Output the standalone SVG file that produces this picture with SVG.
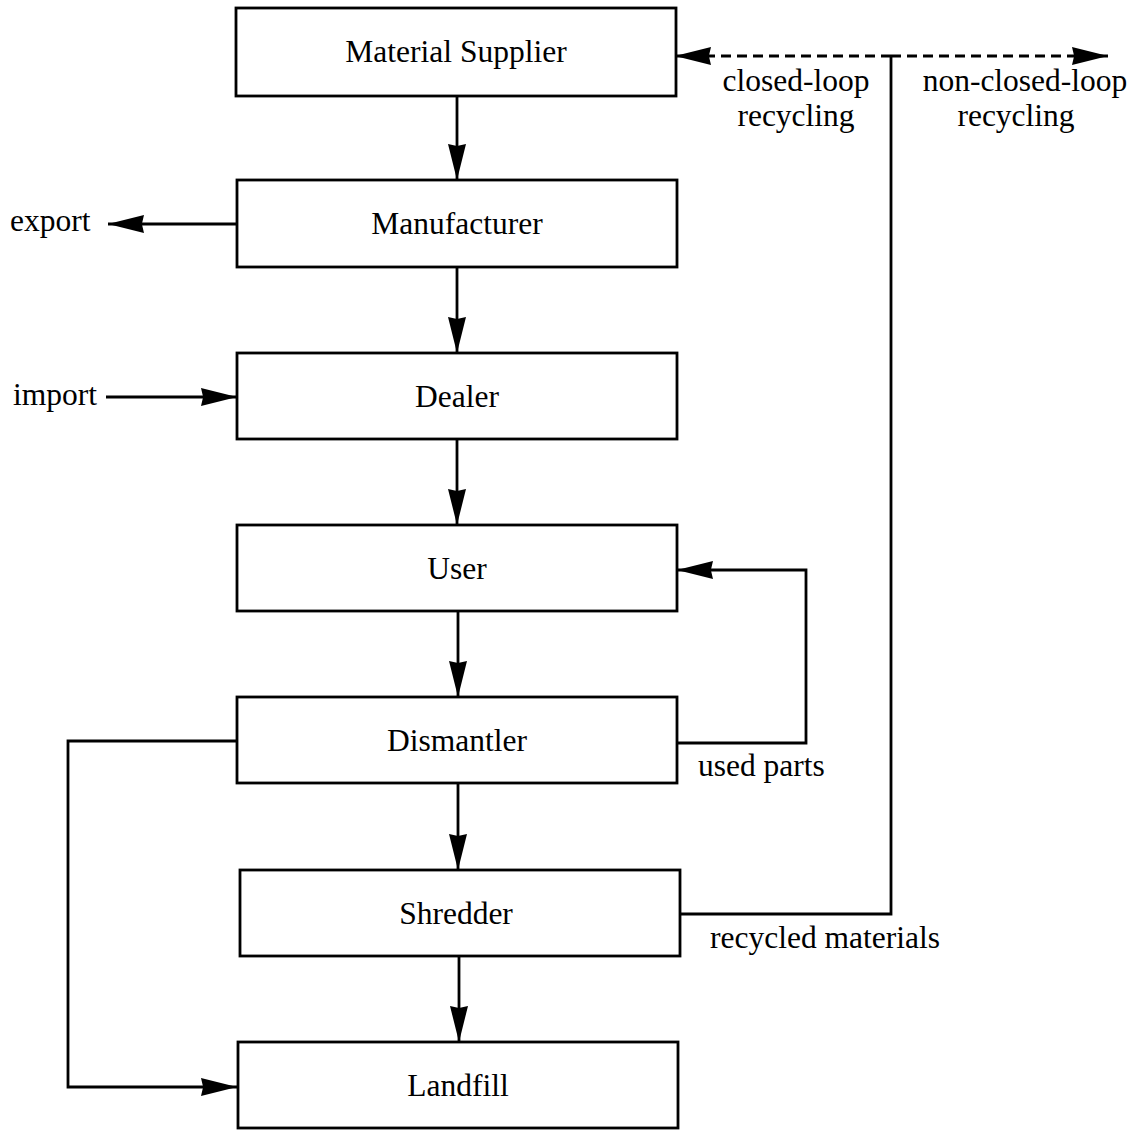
<svg xmlns="http://www.w3.org/2000/svg" width="1134" height="1135" viewBox="0 0 1134 1135">
  <style>
    .box { fill: #fff; stroke: #000; stroke-width: 2.8; }
    .lbl { font-family: "Liberation Serif", "Times New Roman", serif; font-size: 31.5px; fill: #000; }
    .mid { text-anchor: middle; }
    .ln { fill: none; stroke: #000; stroke-width: 2.8; }
    .dash { stroke-dasharray: 10 6; }
  </style>
  <defs>
    <marker id="arr" markerUnits="userSpaceOnUse" markerWidth="36" markerHeight="20" viewBox="0 0 34 18" refX="34" refY="9" orient="auto">
      <path d="M0,0.5 L34,9 L0,17.5 L2,9 Z" fill="#000"/>
    </marker>
  </defs>

  <g id="connectors">
    <!-- main downward flow -->
    <path class="ln" d="M457,96 V180" marker-end="url(#arr)"/>
    <path class="ln" d="M457,267 V353" marker-end="url(#arr)"/>
    <path class="ln" d="M457,439 V525" marker-end="url(#arr)"/>
    <path class="ln" d="M458,611 V697" marker-end="url(#arr)"/>
    <path class="ln" d="M458,783 V870" marker-end="url(#arr)"/>
    <path class="ln" d="M459,956 V1042" marker-end="url(#arr)"/>
    <!-- export / import -->
    <path class="ln" d="M237,224 H108" marker-end="url(#arr)"/>
    <path class="ln" d="M106,397 H237" marker-end="url(#arr)"/>
    <!-- used parts back to user -->
    <path class="ln" d="M677,743 H806 V570 H677" marker-end="url(#arr)"/>
    <!-- dismantler straight to landfill -->
    <path class="ln" d="M237,741 H68 V1087 H237" marker-end="url(#arr)"/>
    <!-- recycled materials riser -->
    <path class="ln" d="M680,914 H891 V56"/>
    <!-- recycling branches -->
    <path class="ln dash" d="M891,56 H675" marker-end="url(#arr)"/>
    <path class="ln dash" d="M891,56 H1108" marker-end="url(#arr)"/>
  </g>

  <g id="material-supplier">
    <rect class="box" x="236" y="8" width="440" height="88"/>
    <text class="lbl mid" x="456" y="62">Material Supplier</text>
  </g>
  <g id="manufacturer">
    <rect class="box" x="237" y="180" width="440" height="87"/>
    <text class="lbl mid" x="457" y="234">Manufacturer</text>
  </g>
  <g id="dealer">
    <rect class="box" x="237" y="353" width="440" height="86"/>
    <text class="lbl mid" x="457" y="407">Dealer</text>
  </g>
  <g id="user">
    <rect class="box" x="237" y="525" width="440" height="86"/>
    <text class="lbl mid" x="457" y="579">User</text>
  </g>
  <g id="dismantler">
    <rect class="box" x="237" y="697" width="440" height="86"/>
    <text class="lbl mid" x="457" y="751">Dismantler</text>
  </g>
  <g id="shredder">
    <rect class="box" x="240" y="870" width="440" height="86"/>
    <text class="lbl mid" x="456" y="924">Shredder</text>
  </g>
  <g id="landfill">
    <rect class="box" x="238" y="1042" width="440" height="86"/>
    <text class="lbl mid" x="458" y="1096">Landfill</text>
  </g>

  <g id="labels">
    <text class="lbl" x="10" y="231">export</text>
    <text class="lbl" x="13" y="405">import</text>
    <text class="lbl" x="698" y="776">used parts</text>
    <text class="lbl" x="710" y="948">recycled materials</text>
    <text class="lbl mid" x="796" y="91">closed-loop</text>
    <text class="lbl mid" x="796" y="126">recycling</text>
    <text class="lbl mid" x="1025" y="91">non-closed-loop</text>
    <text class="lbl mid" x="1016" y="126">recycling</text>
  </g>
</svg>
